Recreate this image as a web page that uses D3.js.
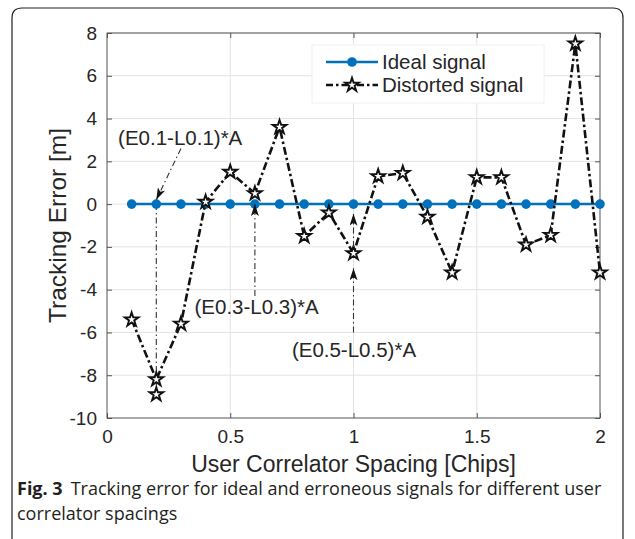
<!DOCTYPE html>
<html lang="en">
<head>
	<meta charset="utf-8">
	<title>Tracking error vs correlator spacing</title>
	<script src="https://cdn.jsdelivr.net/npm/d3@7"></script>
	<style>
		body { margin: 0; background: #fff; }
		.tick text { font-family: "Liberation Sans", Arial, sans-serif; font-size: 19px; fill: #262626; }
		.lbl { font-family: "Liberation Sans", Arial, sans-serif; fill: #262626; }
		.cap { font-family: "Open Sans", "Noto Sans", sans-serif; fill: #231f20; }
	</style>
</head>
<body>
<script>
	// chart values
	var spacing = [0.1, 0.2, 0.3, 0.4, 0.5, 0.6, 0.7, 0.8, 0.9, 1.0,
		1.1, 1.2, 1.3, 1.4, 1.5, 1.6, 1.7, 1.8, 1.9, 2.0];
	var ideal = [0, 0, 0, 0, 0, 0, 0, 0, 0, 0, 0, 0, 0, 0, 0, 0, 0, 0, 0, 0];
	var distorted = [-5.4, -8.2, -5.6, 0.1, 1.5, 0.5, 3.6, -1.5, -0.4, -2.3,
		1.3, 1.45, -0.6, -3.2, 1.25, 1.25, -1.9, -1.45, 7.5, -3.2];
	var extraStars = [[0.2, -8.9]];
	var xTicks = [0, 0.5, 1, 1.5, 2];
	var yTicks = [-10, -8, -6, -4, -2, 0, 2, 4, 6, 8];
	var seriesNames = ["Ideal signal", "Distorted signal"];

	// annotations: label, label position, arrows [x1,y1,x2,y2]
	var notes = [
		{ text: "(E0.1-L0.1)*A", at: [0.045, 3.1], arrows: [[0.30, 2.6, 0.2, 0.2]], lines: [[0.2, 0, 0.2, -8.9]] },
		{ text: "(E0.3-L0.3)*A", at: [0.355, -4.8], arrows: [[0.6, -4.3, 0.6, 0]], lines: [] },
		{ text: "(E0.5-L0.5)*A", at: [0.75, -6.8], arrows: [[1.0, -6.0, 1.0, -3.0], [1.0, -2.0, 1.0, -0.45]], lines: [] }
	];

	var w = 635, h = 539;
	var pLeft = 107, pRight = 600, pTop = 33, pBottom = 418;

	var svg = d3.select("body").append("svg")
		.attr("width", w)
		.attr("height", h);

	// figure frame
	svg.append("path")
		.attr("d", "M12," + h + " V18 Q12,8 22,8 H613 Q623,8 623,18 V" + h)
		.attr("fill", "none")
		.attr("stroke", "#231f20")
		.attr("stroke-width", 1.2);

	var x = d3.scaleLinear().domain([0, 2]).range([pLeft, pRight]);
	var y = d3.scaleLinear().domain([-10, 8]).range([pBottom, pTop]);

	// grid
	svg.append("g").selectAll("line").data(xTicks.slice(1, -1)).enter().append("line")
		.attr("x1", function (d) { return x(d); }).attr("x2", function (d) { return x(d); })
		.attr("y1", pTop).attr("y2", pBottom)
		.attr("stroke", "#e3e3e3").attr("stroke-width", 1);
	svg.append("g").selectAll("line").data(yTicks.slice(1)).enter().append("line")
		.attr("y1", function (d) { return y(d); }).attr("y2", function (d) { return y(d); })
		.attr("x1", pLeft).attr("x2", pRight)
		.attr("stroke", "#e3e3e3").attr("stroke-width", 1);

	// axes (ticks inside, box on); plain hyphen for negatives like the figure
	var fmt = function (d) { return String(d); };
	var xAxis = d3.axisBottom(x).tickValues(xTicks).tickSize(-5).tickPadding(12).tickFormat(fmt);
	var yAxis = d3.axisLeft(y).tickValues(yTicks).tickSize(-5).tickPadding(10).tickFormat(fmt);

	var gx = svg.append("g").attr("transform", "translate(0," + pBottom + ")").call(xAxis);
	var gy = svg.append("g").attr("transform", "translate(" + pLeft + ",0)").call(yAxis);
	var gx2 = svg.append("g").attr("transform", "translate(0," + pTop + ")")
		.call(d3.axisTop(x).tickValues(xTicks).tickSize(-5).tickFormat(""));
	var gy2 = svg.append("g").attr("transform", "translate(" + pRight + ",0)")
		.call(d3.axisRight(y).tickValues(yTicks).tickSize(-5).tickFormat(""));
	[gx, gy, gx2, gy2].forEach(function (g) {
		g.select(".domain").remove();
		g.selectAll(".tick line").attr("stroke", "#555");
	});
	svg.append("rect")
		.attr("x", pLeft).attr("y", pTop)
		.attr("width", pRight - pLeft).attr("height", pBottom - pTop)
		.attr("fill", "none").attr("stroke", "#555").attr("stroke-width", 1);

	// axis titles
	svg.append("text").attr("class", "lbl")
		.attr("x", (pLeft + pRight) / 2).attr("y", 472)
		.attr("text-anchor", "middle").attr("font-size", 23)
		.text("User Correlator Spacing [Chips]");
	svg.append("text").attr("class", "lbl")
		.attr("transform", "translate(66," + ((pTop + pBottom) / 2) + ") rotate(-90)")
		.attr("text-anchor", "middle").attr("font-size", 24.5)
		.text("Tracking Error [m]");

	// arrowhead marker
	svg.append("defs").append("marker")
		.attr("id", "head")
		.attr("viewBox", "0 0 12 8")
		.attr("refX", 12).attr("refY", 4)
		.attr("markerWidth", 12).attr("markerHeight", 8)
		.attr("markerUnits", "userSpaceOnUse")
		.attr("orient", "auto")
		.append("path")
		.attr("d", "M0,0 L12,4 L0,8 L3,4 Z")
		.attr("fill", "#111");

	var lineGen = d3.line()
		.x(function (d) { return x(d[0]); })
		.y(function (d) { return y(d[1]); });

	// annotation lines
	notes.forEach(function (n) {
		n.lines.forEach(function (l) {
			svg.append("line")
				.attr("x1", x(l[0])).attr("y1", y(l[1])).attr("x2", x(l[2])).attr("y2", y(l[3]))
				.attr("stroke", "#333").attr("stroke-width", 1.1)
				.attr("stroke-dasharray", "6,3,1.5,3");
		});
	});

	// ideal signal
	var idealPts = spacing.map(function (s, i) { return [s, ideal[i]]; });
	svg.append("path").datum(idealPts)
		.attr("d", lineGen)
		.attr("fill", "none").attr("stroke", "#0072BD").attr("stroke-width", 2.5);
	svg.append("g").selectAll("circle").data(idealPts).enter().append("circle")
		.attr("cx", function (d) { return x(d[0]); })
		.attr("cy", function (d) { return y(d[1]); })
		.attr("r", 4.8)
		.attr("fill", "#0072BD");

	// distorted signal
	var distPts = spacing.map(function (s, i) { return [s, distorted[i]]; });
	svg.append("path").datum(distPts)
		.attr("d", lineGen)
		.attr("fill", "none").attr("stroke", "#111").attr("stroke-width", 2.6)
		.attr("stroke-dasharray", "8,3,2.5,3");
	var star = d3.symbol().type(d3.symbolStar).size(58);
	svg.append("g").selectAll("path").data(distPts.concat(extraStars)).enter().append("path")
		.attr("d", star)
		.attr("transform", function (d) { return "translate(" + x(d[0]) + "," + y(d[1]) + ")"; })
		.attr("fill", "#fff").attr("stroke", "#111").attr("stroke-width", 1.9);

	// annotation labels and arrows
	notes.forEach(function (n) {
		svg.append("text").attr("class", "lbl")
			.attr("x", x(n.at[0])).attr("y", y(n.at[1]))
			.attr("dy", "0.35em").attr("font-size", 20.5)
			.text(n.text);
		n.arrows.forEach(function (a) {
			svg.append("line")
				.attr("x1", x(a[0])).attr("y1", y(a[1])).attr("x2", x(a[2])).attr("y2", y(a[3]))
				.attr("stroke", "#333").attr("stroke-width", 1.1)
				.attr("stroke-dasharray", "6,3,1.5,3")
				.attr("marker-end", "url(#head)");
		});
	});

	// legend
	var lg = svg.append("g").attr("transform", "translate(312,45)");
	lg.append("rect").attr("width", 232).attr("height", 58)
		.attr("fill", "#fff").attr("stroke", "#f0f0f0");
	seriesNames.forEach(function (name, i) {
		var ly = 17 + i * 23;
		var row = lg.append("g").attr("transform", "translate(0," + ly + ")");
		row.append("line").attr("x1", 14).attr("x2", 66)
			.attr("stroke", i === 0 ? "#0072BD" : "#111")
			.attr("stroke-width", i === 0 ? 2.5 : 2.6)
			.attr("stroke-dasharray", i === 0 ? null : "7,3,2.5,3");
		if (i === 0) {
			row.append("circle").attr("cx", 40).attr("r", 4.8).attr("fill", "#0072BD");
		} else {
			row.append("path").attr("d", star).attr("transform", "translate(40,0)")
				.attr("fill", "#fff").attr("stroke", "#111").attr("stroke-width", 1.9);
		}
		row.append("text").attr("class", "lbl")
			.attr("x", 70).attr("dy", "0.35em").attr("font-size", 20.5)
			.text(name);
	});

	// caption
	var cap1 = svg.append("text").attr("class", "cap")
		.attr("x", 17).attr("y", 495).attr("font-size", 18);
	cap1.append("tspan").attr("font-weight", "bold").text("Fig. 3");
	cap1.append("tspan").attr("dx", 8).text("Tracking error for ideal and erroneous signals for different user");
	svg.append("text").attr("class", "cap")
		.attr("x", 17).attr("y", 520).attr("font-size", 18)
		.text("correlator spacings");
</script>
</body>
</html>
